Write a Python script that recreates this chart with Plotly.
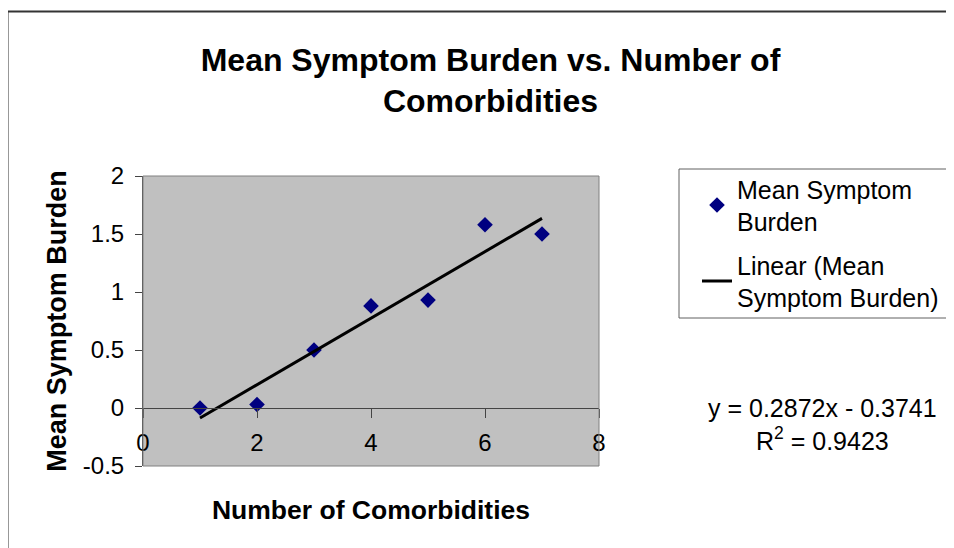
import numpy as np
import plotly.graph_objects as go

# Data
comorbidities = [1, 2, 3, 4, 5, 6, 7]
mean_symptom_burden = [0.0, 0.03, 0.5, 0.88, 0.93, 1.58, 1.5]

title_lines = ["Mean Symptom Burden vs. Number of", "Comorbidities"]
x_title = "Number of Comorbidities"
y_title = "Mean Symptom Burden"
series_name = "Mean Symptom<br>Burden"
trend_name = "Linear (Mean<br>Symptom Burden)"
equation_text = "y = 0.2872x - 0.3741<br>R<sup>2</sup> = 0.9423"

x_ticks = [0, 2, 4, 6, 8]
x_tick_text = ["0", "2", "4", "6", "8"]
y_ticks = [-0.5, 0, 0.5, 1, 1.5, 2]
y_tick_text = ["-0.5", "0", "0.5", "1", "1.5", "2"]

# Linear trendline computed from the data
slope, intercept = np.polyfit(comorbidities, mean_symptom_burden, 1)
trend_x = [min(comorbidities), max(comorbidities)]
trend_y = [slope * v + intercept for v in trend_x]

# The page body adds an 8px offset; the figure is sized to fill the rest
OFF = 8
W, H = 954 - OFF, 548 - OFF
L, T = 143 - OFF, 176 - OFF
R, B = W - (599 - OFF), H - (466 - OFF)
pw, ph = W - L - R, H - T - B


def px_x(p):
    """reference-screen pixel x -> paper coordinate"""
    return (p - OFF - L) / pw


def px_y(p):
    """reference-screen pixel y -> paper coordinate"""
    return (H - B - (p - OFF)) / ph


FONT = "Liberation Sans, Arial, sans-serif"

fig = go.Figure()
fig.add_trace(go.Scatter(
    x=comorbidities, y=mean_symptom_burden, mode="markers",
    name=series_name, legendgroup="a",
    marker=dict(symbol="diamond", size=12, color="#000080"),
))
fig.add_trace(go.Scatter(
    x=trend_x, y=trend_y, mode="lines", name=trend_name, legendgroup="b",
    line=dict(color="black", width=3),
))

fig.update_layout(
    width=W, height=H,
    margin=dict(l=L, r=R, t=T, b=B, autoexpand=False),
    paper_bgcolor="white",
    plot_bgcolor="#C0C0C0",
    font=dict(family=FONT, color="black", size=24),
    title=dict(
        text="<br>".join(title_lines),
        font=dict(size=32, family=FONT, weight="bold"),
        xref="container", yref="container",
        x=(490.5 - OFF) / W, y=1 - 62.5 / H, xanchor="center", yanchor="middle",
    ),
    xaxis=dict(
        range=[0, 8], tickvals=x_ticks, ticktext=x_tick_text,
        ticks="outside", ticklen=9,
        tickcolor="#444", showline=True, linecolor="#444", linewidth=1,
        showgrid=False, zeroline=False, anchor="free", position=0.2,
        tickfont=dict(size=24), ticklabelstandoff=4,
        title=dict(text=x_title, font=dict(size=26.5, weight="bold"), standoff=45),
    ),
    yaxis=dict(
        range=[-0.5, 2], tickvals=y_ticks, ticktext=y_tick_text,
        ticks="outside", ticklen=7,
        tickcolor="#444", showline=True, linecolor="#444", linewidth=1,
        showgrid=False, zeroline=False, tickfont=dict(size=24),
        ticklabelstandoff=6,
        title=dict(text=y_title, font=dict(size=27, weight="bold"), standoff=8),
    ),
    legend=dict(
        x=px_x(697), y=px_y(166), xanchor="left", yanchor="top",
        bgcolor="rgba(0,0,0,0)", borderwidth=0,
        font=dict(size=25, family=FONT),
        tracegroupgap=8,
    ),
    showlegend=True,
)

# Chart area frame (extends past the right/bottom edges)
fig.add_shape(type="rect", xref="paper", yref="paper",
              x0=px_x(7.5), x1=px_x(980), y0=px_y(11.5), y1=px_y(580),
              line=dict(color="#333", width=2), layer="below")
# Plot area border
fig.add_shape(type="rect", xref="x domain", yref="y domain",
              x0=0, x1=1, y0=0, y1=1,
              line=dict(color="#808080", width=1), layer="above")
# Legend box (extends past the right edge)
fig.add_shape(type="rect", xref="paper", yref="paper",
              x0=px_x(679), x1=px_x(980), y0=px_y(169), y1=px_y(318),
              line=dict(color="#606060", width=1), layer="above")

fig.add_annotation(
    text=equation_text, xref="paper", yref="paper",
    x=px_x(822), y=px_y(424), xanchor="center", yanchor="middle",
    showarrow=False, align="center", font=dict(size=25, family=FONT),
)

fig.write_html("out.html")
